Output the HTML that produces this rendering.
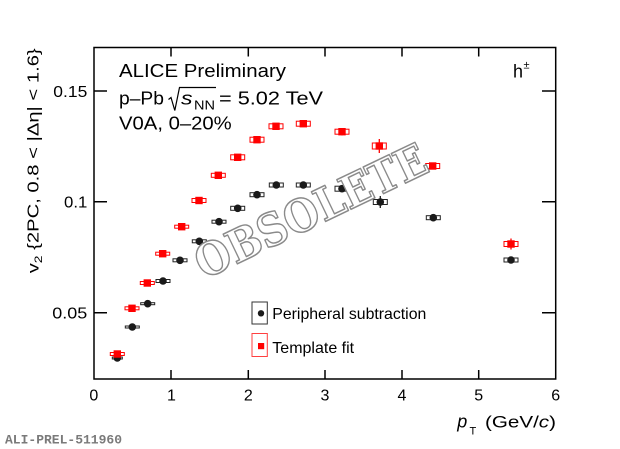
<!DOCTYPE html>
<html>
<head>
<meta charset="utf-8">
<style>
html,body{margin:0;padding:0;background:#fff;}
svg{display:block;font-family:"Liberation Sans",Arial,sans-serif;}
</style>
</head>
<body>
<svg width="620" height="449" viewBox="0 0 620 449" xmlns="http://www.w3.org/2000/svg">
<rect x="0" y="0" width="620" height="449" fill="#fff"/>

<!-- frame -->
<rect x="94" y="47.5" width="461.7" height="331.5" fill="none" stroke="#000" stroke-width="1.5"/>

<!-- ticks -->
<g stroke="#000" stroke-width="1.5" fill="none">
  <path d="M94 312.7H107 M94 201.7H107 M94 91H107"/>
  <path d="M555.7 312.7H542 M555.7 201.7H542 M555.7 91H542"/>
  <path d="M171 379V370 M248.3 379V370 M325 379V370 M402 379V370 M478.7 379V370"/>
  <path d="M171 47.5V56.5 M248.3 47.5V56.5 M325 47.5V56.5 M402 47.5V56.5 M478.7 47.5V56.5"/>
</g>

<!-- y tick labels -->
<g font-size="16" fill="#000" text-anchor="end">
  <text x="87.3" y="96.8" textLength="34" lengthAdjust="spacingAndGlyphs">0.15</text>
  <text x="87.3" y="207.5" textLength="23.3" lengthAdjust="spacingAndGlyphs">0.1</text>
  <text x="87.3" y="318.5" textLength="35" lengthAdjust="spacingAndGlyphs">0.05</text>
</g>

<!-- x tick labels -->
<g font-size="16" fill="#000" text-anchor="middle">
  <text x="93.8" y="400.5">0</text>
  <text x="171.5" y="400.5">1</text>
  <text x="248.3" y="400.5">2</text>
  <text x="325" y="400.5">3</text>
  <text x="402" y="400.5">4</text>
  <text x="478.7" y="400.5">5</text>
  <text x="555.7" y="400.5">6</text>
</g>

<!-- x axis title -->
<text x="457.3" y="427.3" font-size="18" font-style="italic" fill="#000">p</text>
<text x="469.5" y="434.5" font-size="11" fill="#000">T</text>
<text x="485" y="427.3" font-size="17" fill="#000" textLength="71" lengthAdjust="spacingAndGlyphs">(GeV/<tspan font-style="italic">c</tspan>)</text>

<!-- y axis title -->
<g transform="translate(38.3,273.3) rotate(-90)">
  <text x="0" y="0" font-size="16" fill="#000" textLength="225" lengthAdjust="spacingAndGlyphs">v<tspan font-size="11" dy="3.5">2</tspan><tspan dy="-3.5"> {2PC, 0.8 &lt; |Δη| &lt; 1.6}</tspan></text>
</g>

<!-- header text -->
<g fill="#000" font-size="18">
  <text x="119" y="77" textLength="167" lengthAdjust="spacingAndGlyphs">ALICE Preliminary</text>
  <text x="119" y="104.5" textLength="45" lengthAdjust="spacingAndGlyphs">p–Pb</text>
  <text x="181" y="104.5" font-style="italic" textLength="11.5" lengthAdjust="spacingAndGlyphs">s</text>
  <text x="194" y="109.5" font-size="12.5" textLength="21" lengthAdjust="spacingAndGlyphs">NN</text>
  <text x="219" y="104.5" textLength="104" lengthAdjust="spacingAndGlyphs">= 5.02 TeV</text>
  <text x="119" y="129.7" textLength="112.7" lengthAdjust="spacingAndGlyphs">V0A, 0–20%</text>
  <text x="513" y="77.7" textLength="10" lengthAdjust="spacingAndGlyphs">h</text>
  <text x="523.5" y="68.5" font-size="11">±</text>
</g>
<path d="M168.5 99.5 L171 97.5 L174.8 110.5 L179.5 87.5 L216 87.5" fill="none" stroke="#000" stroke-width="1.2"/>

<!-- Black series: peripheral subtraction -->
<g>
  <path d="M380.3 196V208" stroke="#1a1a1a" stroke-width="1.3"/>
  <g fill="none" stroke="#222" stroke-width="1">
    <rect x="112.3" y="357" width="10" height="2"/>
    <rect x="125.3" y="326" width="14" height="2"/>
    <rect x="140.7" y="302.7" width="14" height="2"/>
    <rect x="156" y="279.5" width="14" height="3"/>
    <rect x="173" y="258.8" width="14" height="3"/>
    <rect x="192.3" y="239.8" width="14" height="3"/>
    <rect x="212" y="220.2" width="14" height="3"/>
    <rect x="230.7" y="206.3" width="14" height="4"/>
    <rect x="250" y="192.7" width="14" height="4"/>
    <rect x="269.3" y="183" width="14" height="4"/>
    <rect x="296.3" y="183" width="14" height="4"/>
    <rect x="335" y="186.2" width="14" height="5"/>
    <rect x="373.3" y="199.5" width="14" height="5"/>
    <rect x="426.3" y="215.7" width="14" height="4"/>
    <rect x="504" y="258" width="14" height="4"/>
  </g>
  <g fill="#1a1a1a">
    <circle cx="117.3" cy="358" r="3.8"/>
    <circle cx="132.3" cy="327" r="3.8"/>
    <circle cx="147.7" cy="303.7" r="3.8"/>
    <circle cx="163" cy="281" r="3.8"/>
    <circle cx="180" cy="260.3" r="3.8"/>
    <circle cx="199.3" cy="241.3" r="3.8"/>
    <circle cx="219" cy="221.7" r="3.8"/>
    <circle cx="237.7" cy="208.3" r="3.8"/>
    <circle cx="257" cy="194.7" r="3.8"/>
    <circle cx="276.3" cy="185" r="3.8"/>
    <circle cx="303.3" cy="185" r="3.8"/>
    <circle cx="342" cy="188.7" r="3.8"/>
    <circle cx="380.3" cy="202" r="3.8"/>
    <circle cx="433.3" cy="217.7" r="3.8"/>
    <circle cx="511" cy="260" r="3.8"/>
  </g>
</g>

<!-- Red series: template fit -->
<g>
  <path d="M342 128V135.5 M379.3 139V153 M511 238.5V249.5" stroke="#ff0000" stroke-width="1.3"/>
  <g fill="none" stroke="#ff0000" stroke-width="1">
    <rect x="110.3" y="352.5" width="14" height="3"/>
    <rect x="125" y="306.8" width="14" height="3"/>
    <rect x="140.3" y="281.5" width="14" height="3"/>
    <rect x="155.7" y="252.2" width="14" height="3"/>
    <rect x="174.7" y="225.2" width="14" height="3"/>
    <rect x="192" y="198.5" width="14" height="4"/>
    <rect x="211.3" y="173.3" width="14" height="4"/>
    <rect x="230.7" y="154.8" width="14" height="5"/>
    <rect x="250" y="137.2" width="14" height="5"/>
    <rect x="269" y="123.8" width="14" height="5"/>
    <rect x="296.3" y="121.2" width="14" height="5"/>
    <rect x="335" y="129.2" width="14" height="5"/>
    <rect x="372.3" y="143" width="14" height="6"/>
    <rect x="425.7" y="163.5" width="14" height="5"/>
    <rect x="504" y="241.5" width="14" height="5"/>
  </g>
  <g fill="#ff0000">
    <rect x="113.6" y="350.3" width="7.4" height="7.4"/>
    <rect x="128.3" y="304.6" width="7.4" height="7.4"/>
    <rect x="143.6" y="279.3" width="7.4" height="7.4"/>
    <rect x="159" y="250" width="7.4" height="7.4"/>
    <rect x="178" y="223" width="7.4" height="7.4"/>
    <rect x="195.3" y="196.8" width="7.4" height="7.4"/>
    <rect x="214.6" y="171.6" width="7.4" height="7.4"/>
    <rect x="234" y="153.6" width="7.4" height="7.4"/>
    <rect x="253.3" y="136" width="7.4" height="7.4"/>
    <rect x="272.3" y="122.6" width="7.4" height="7.4"/>
    <rect x="299.6" y="120" width="7.4" height="7.4"/>
    <rect x="338.3" y="128" width="7.4" height="7.4"/>
    <rect x="375.6" y="142.3" width="7.4" height="7.4"/>
    <rect x="429" y="162.3" width="7.4" height="7.4"/>
    <rect x="507.3" y="240.3" width="7.4" height="7.4"/>
  </g>
</g>

<!-- legend -->
<rect x="252" y="302" width="15.3" height="22" fill="none" stroke="#333" stroke-width="1"/>
<circle cx="261" cy="313.3" r="3.2" fill="#1a1a1a"/>
<rect x="252" y="333.5" width="15.3" height="23" fill="none" stroke="#ff4040" stroke-width="1"/>
<rect x="258" y="343" width="6.2" height="6.2" fill="#ff0000"/>
<g font-size="16" fill="#000">
  <text x="272.3" y="319" textLength="154" lengthAdjust="spacingAndGlyphs">Peripheral subtraction</text>
  <text x="272.3" y="352.8">Template fit</text>
</g>

<!-- bottom label -->
<text x="5" y="443.3" style="font-family:'Liberation Mono',monospace;font-weight:bold;font-size:13px" fill="#7a7a7a" textLength="117" lengthAdjust="spacingAndGlyphs">ALI-PREL-511960</text>

<!-- OBSOLETE stamp -->
<g transform="translate(310.8,210.8) rotate(-25.6)">
  <text x="-126" y="16" style="font-family:'DejaVu Serif','Liberation Serif',serif;font-weight:bold;font-size:45px" textLength="252" lengthAdjust="spacingAndGlyphs" fill="#fff" stroke="#8a8a8a" stroke-width="1.5" stroke-linejoin="round">OBSOLETE</text>
</g>

</svg>
</body>
</html>
